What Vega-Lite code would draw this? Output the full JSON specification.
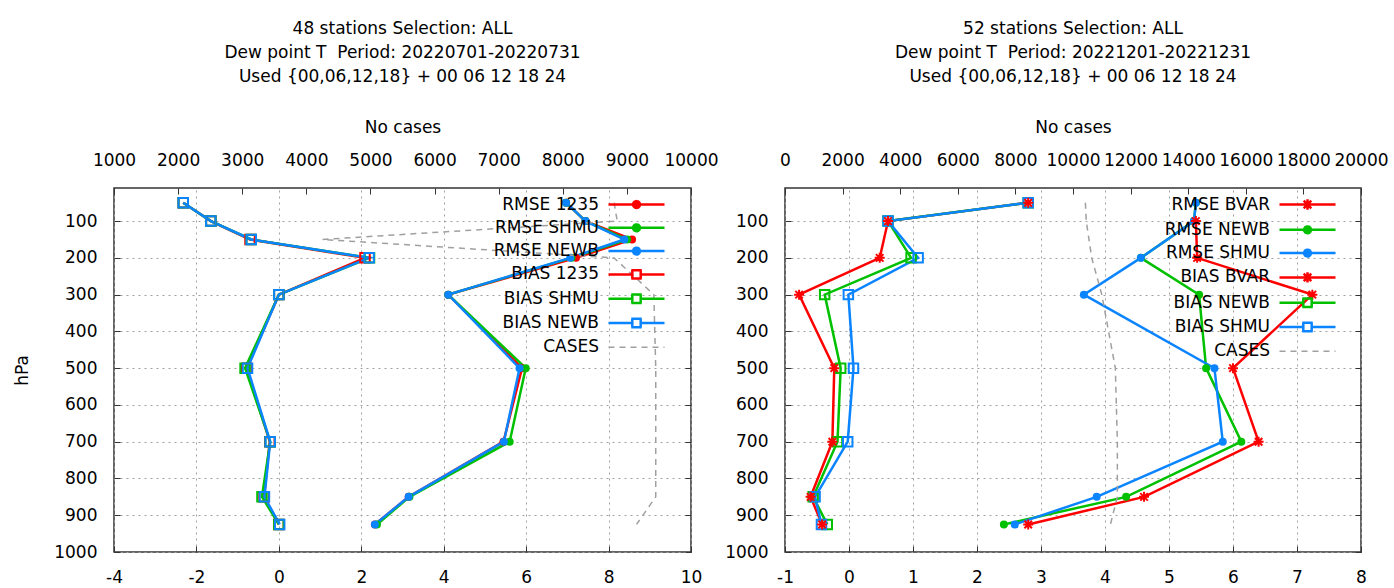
{
  "$schema": "https://vega.github.io/schema/vega-lite/v6.json",
  "padding": {"left": 12, "top": 19, "right": 0, "bottom": 0},
  "background": "white",
  "bounds": "flush",
  "spacing": 94,
  "datasets": {
    "L": [
      {"series": "RMSE 1235", "p": 50, "v": 6.97}, {"series": "RMSE 1235", "p": 100, "v": 7.44}, {"series": "RMSE 1235", "p": 150, "v": 8.57}, {"series": "RMSE 1235", "p": 200, "v": 7.21}, {"series": "RMSE 1235", "p": 300, "v": 4.11}, {"series": "RMSE 1235", "p": 500, "v": 5.9}, {"series": "RMSE 1235", "p": 700, "v": 5.45}, {"series": "RMSE 1235", "p": 850, "v": 3.15}, {"series": "RMSE 1235", "p": 925, "v": 2.33},
      {"series": "RMSE SHMU", "p": 50, "v": 6.97}, {"series": "RMSE SHMU", "p": 100, "v": 7.44}, {"series": "RMSE SHMU", "p": 150, "v": 8.45}, {"series": "RMSE SHMU", "p": 200, "v": 7.1}, {"series": "RMSE SHMU", "p": 300, "v": 4.11}, {"series": "RMSE SHMU", "p": 500, "v": 5.99}, {"series": "RMSE SHMU", "p": 700, "v": 5.6}, {"series": "RMSE SHMU", "p": 850, "v": 3.17}, {"series": "RMSE SHMU", "p": 925, "v": 2.38},
      {"series": "RMSE NEWB", "p": 50, "v": 6.97}, {"series": "RMSE NEWB", "p": 100, "v": 7.44}, {"series": "RMSE NEWB", "p": 150, "v": 8.38}, {"series": "RMSE NEWB", "p": 200, "v": 7.07}, {"series": "RMSE NEWB", "p": 300, "v": 4.11}, {"series": "RMSE NEWB", "p": 500, "v": 5.84}, {"series": "RMSE NEWB", "p": 700, "v": 5.46}, {"series": "RMSE NEWB", "p": 850, "v": 3.15}, {"series": "RMSE NEWB", "p": 925, "v": 2.33},
      {"series": "BIAS 1235", "p": 50, "v": -2.32}, {"series": "BIAS 1235", "p": 100, "v": -1.65}, {"series": "BIAS 1235", "p": 150, "v": -0.7}, {"series": "BIAS 1235", "p": 200, "v": 2.09}, {"series": "BIAS 1235", "p": 300, "v": 0.0}, {"series": "BIAS 1235", "p": 500, "v": -0.78}, {"series": "BIAS 1235", "p": 700, "v": -0.22}, {"series": "BIAS 1235", "p": 850, "v": -0.36}, {"series": "BIAS 1235", "p": 925, "v": 0.0},
      {"series": "BIAS SHMU", "p": 50, "v": -2.32}, {"series": "BIAS SHMU", "p": 100, "v": -1.65}, {"series": "BIAS SHMU", "p": 150, "v": -0.67}, {"series": "BIAS SHMU", "p": 200, "v": 2.2}, {"series": "BIAS SHMU", "p": 300, "v": 0.0}, {"series": "BIAS SHMU", "p": 500, "v": -0.82}, {"series": "BIAS SHMU", "p": 700, "v": -0.21}, {"series": "BIAS SHMU", "p": 850, "v": -0.41}, {"series": "BIAS SHMU", "p": 925, "v": 0.0},
      {"series": "BIAS NEWB", "p": 50, "v": -2.32}, {"series": "BIAS NEWB", "p": 100, "v": -1.65}, {"series": "BIAS NEWB", "p": 150, "v": -0.67}, {"series": "BIAS NEWB", "p": 200, "v": 2.19}, {"series": "BIAS NEWB", "p": 300, "v": 0.0}, {"series": "BIAS NEWB", "p": 500, "v": -0.76}, {"series": "BIAS NEWB", "p": 700, "v": -0.21}, {"series": "BIAS NEWB", "p": 850, "v": -0.35}, {"series": "BIAS NEWB", "p": 925, "v": 0.02}
    ],
    "LC": [
      {"series": "CASES", "p": 50, "n": 8800}, {"series": "CASES", "p": 100, "n": 8850}, {"series": "CASES", "p": 150, "n": 4250}, {"series": "CASES", "p": 200, "n": 8800}, {"series": "CASES", "p": 300, "n": 9420}, {"series": "CASES", "p": 500, "n": 9450}, {"series": "CASES", "p": 700, "n": 9450}, {"series": "CASES", "p": 850, "n": 9450}, {"series": "CASES", "p": 925, "n": 9150}
    ],
    "R": [
      {"series": "RMSE BVAR", "p": 100, "v": 5.42}, {"series": "RMSE BVAR", "p": 200, "v": 5.44}, {"series": "RMSE BVAR", "p": 300, "v": 7.24}, {"series": "RMSE BVAR", "p": 500, "v": 6.0}, {"series": "RMSE BVAR", "p": 700, "v": 6.4}, {"series": "RMSE BVAR", "p": 850, "v": 4.61}, {"series": "RMSE BVAR", "p": 925, "v": 2.8},
      {"series": "RMSE NEWB", "p": 50, "v": 5.42}, {"series": "RMSE NEWB", "p": 100, "v": 5.39}, {"series": "RMSE NEWB", "p": 200, "v": 4.56}, {"series": "RMSE NEWB", "p": 300, "v": 5.47}, {"series": "RMSE NEWB", "p": 500, "v": 5.58}, {"series": "RMSE NEWB", "p": 700, "v": 6.13}, {"series": "RMSE NEWB", "p": 850, "v": 4.33}, {"series": "RMSE NEWB", "p": 925, "v": 2.42},
      {"series": "RMSE SHMU", "p": 50, "v": 5.42}, {"series": "RMSE SHMU", "p": 100, "v": 5.39}, {"series": "RMSE SHMU", "p": 200, "v": 4.56}, {"series": "RMSE SHMU", "p": 300, "v": 3.67}, {"series": "RMSE SHMU", "p": 500, "v": 5.71}, {"series": "RMSE SHMU", "p": 700, "v": 5.84}, {"series": "RMSE SHMU", "p": 850, "v": 3.87}, {"series": "RMSE SHMU", "p": 925, "v": 2.59},
      {"series": "BIAS BVAR", "p": 50, "v": 2.8}, {"series": "BIAS BVAR", "p": 100, "v": 0.61}, {"series": "BIAS BVAR", "p": 200, "v": 0.48}, {"series": "BIAS BVAR", "p": 300, "v": -0.78}, {"series": "BIAS BVAR", "p": 500, "v": -0.23}, {"series": "BIAS BVAR", "p": 700, "v": -0.26}, {"series": "BIAS BVAR", "p": 850, "v": -0.6}, {"series": "BIAS BVAR", "p": 925, "v": -0.42},
      {"series": "BIAS NEWB", "p": 50, "v": 2.8}, {"series": "BIAS NEWB", "p": 100, "v": 0.61}, {"series": "BIAS NEWB", "p": 200, "v": 0.97}, {"series": "BIAS NEWB", "p": 300, "v": -0.38}, {"series": "BIAS NEWB", "p": 500, "v": -0.13}, {"series": "BIAS NEWB", "p": 700, "v": -0.18}, {"series": "BIAS NEWB", "p": 850, "v": -0.56}, {"series": "BIAS NEWB", "p": 925, "v": -0.34},
      {"series": "BIAS SHMU", "p": 50, "v": 2.8}, {"series": "BIAS SHMU", "p": 100, "v": 0.61}, {"series": "BIAS SHMU", "p": 200, "v": 1.08}, {"series": "BIAS SHMU", "p": 300, "v": -0.01}, {"series": "BIAS SHMU", "p": 500, "v": 0.07}, {"series": "BIAS SHMU", "p": 700, "v": -0.02}, {"series": "BIAS SHMU", "p": 850, "v": -0.53}, {"series": "BIAS SHMU", "p": 925, "v": -0.43}
    ],
    "RC": [
      {"series": "CASES", "p": 50, "n": 10430}, {"series": "CASES", "p": 100, "n": 10460}, {"series": "CASES", "p": 200, "n": 10650}, {"series": "CASES", "p": 300, "n": 11000}, {"series": "CASES", "p": 500, "n": 11470}, {"series": "CASES", "p": 700, "n": 11540}, {"series": "CASES", "p": 850, "n": 11540}, {"series": "CASES", "p": 925, "n": 11300}
    ]
  },
  "resolve": {"scale": {"color": "independent", "shape": "independent"}, "legend": {"color": "independent"}},
  "hconcat": [
    {
      "width": 577, "height": 364,
      "title": {"text": ["48 stations Selection: ALL", "Dew point T \u00a0Period: 20220701-20220731", "Used {00,06,12,18} + 00 06 12 18 24"]},
      "resolve": {"scale": {"x": "independent"}, "axis": {"x": "independent", "y": "independent"}},
      "layer": [
        {
          "data": {"name": "L"},
          "mark": {"type": "line", "strokeWidth": 2.5},
          "encoding": {
            "x": {"field": "v", "type": "quantitative", "scale": {"domain": [-4, 10], "nice": false, "zero": false}, "axis": {"orient": "bottom", "values": [-4, -2, 0, 2, 4, 6, 8, 10], "title": null, "grid": true, "labelExpr": "'' + datum.value"}},
            "y": {"field": "p", "type": "quantitative", "scale": {"domain": [10, 1000], "reverse": true, "nice": false, "zero": false}, "axis": {"orient": "left", "values": [100, 200, 300, 400, 500, 600, 700, 800, 900, 1000], "title": "hPa", "grid": true}},
            "color": {"field": "series", "type": "nominal",
              "scale": {"domain": ["RMSE 1235", "RMSE SHMU", "RMSE NEWB", "BIAS 1235", "BIAS SHMU", "BIAS NEWB", "CASES"], "range": ["#ff0000", "#00c000", "#0b84ff", "#ff0000", "#00c000", "#0b84ff", "#a0a0a0"]},
              "legend": {
                "orient": "none", "legendX": 514, "legendY": 8,
                "encode": {"symbols": {"update": {
                  "shape": {"signal": "datum.value === 'CASES' ? 'M-40,0M-7,0L7,0' : (indexof(datum.value, 'RMSE') === 0 ? 'M-40,0M-7,0L7,0M0.85,0A0.85,0.85,0,1,1,-0.85,0A0.85,0.85,0,1,1,0.85,0Z' : 'M-40,0M-7,0L-1.05,0M1.05,0L7,0M-1.3,-1.05L1.3,-1.05M1.05,-1.05L1.05,1.05M1.3,1.05L-1.3,1.05M-1.05,1.05L-1.05,-1.05')"},
                  "strokeDash": {"signal": "datum.value === 'CASES' ? [6, 5] : [1, 0]"},
                  "strokeWidth": {"signal": "datum.value === 'CASES' ? 1.5 : 2.5"}
                }}}
              }
            },
            "order": {"field": "p", "type": "quantitative"}
          }
        },
        {
          "data": {"name": "L"},
          "transform": [{"filter": {"field": "series", "oneOf": ["RMSE 1235", "RMSE SHMU", "RMSE NEWB"]}}],
          "mark": {"type": "point", "filled": true, "size": 64, "opacity": 1, "shape": "circle"},
          "encoding": {
            "x": {"field": "v", "type": "quantitative", "scale": {"domain": [-4, 10], "nice": false, "zero": false}, "axis": null},
            "y": {"field": "p", "type": "quantitative", "axis": null},
            "color": {"field": "series", "type": "nominal"}
          }
        },
        {
          "data": {"name": "L"},
          "transform": [{"filter": {"field": "series", "oneOf": ["BIAS 1235", "BIAS SHMU", "BIAS NEWB"]}}],
          "mark": {"type": "point", "filled": false, "size": 90, "strokeWidth": 2, "opacity": 1, "shape": "square"},
          "encoding": {
            "x": {"field": "v", "type": "quantitative", "scale": {"domain": [-4, 10], "nice": false, "zero": false}, "axis": null},
            "y": {"field": "p", "type": "quantitative", "axis": null},
            "color": {"field": "series", "type": "nominal"}
          }
        },
        {
          "data": {"name": "LC"},
          "mark": {"type": "line", "strokeWidth": 1.5, "strokeDash": [6, 5]},
          "encoding": {
            "x": {"field": "n", "type": "quantitative", "scale": {"domain": [1000, 10000], "nice": false, "zero": false}, "axis": {"orient": "top", "values": [1000, 2000, 3000, 4000, 5000, 6000, 7000, 8000, 9000, 10000], "title": "No cases", "grid": false}},
            "y": {"field": "p", "type": "quantitative", "axis": {"orient": "right", "labels": false, "title": null, "grid": false, "values": [100, 200, 300, 400, 500, 600, 700, 800, 900, 1000]}},
            "color": {"field": "series", "type": "nominal"},
            "order": {"field": "p", "type": "quantitative"}
          }
        }
      ]
    },
    {
      "width": 576, "height": 364,
      "title": {"text": ["52 stations Selection: ALL", "Dew point T \u00a0Period: 20221201-20221231", "Used {00,06,12,18} + 00 06 12 18 24"]},
      "resolve": {"scale": {"x": "independent"}, "axis": {"x": "independent", "y": "independent"}},
      "layer": [
        {
          "data": {"name": "R"},
          "mark": {"type": "line", "strokeWidth": 2.5},
          "encoding": {
            "x": {"field": "v", "type": "quantitative", "scale": {"domain": [-1, 8], "nice": false, "zero": false}, "axis": {"orient": "bottom", "values": [-1, 0, 1, 2, 3, 4, 5, 6, 7, 8], "title": null, "grid": true, "labelExpr": "'' + datum.value"}},
            "y": {"field": "p", "type": "quantitative", "scale": {"domain": [10, 1000], "reverse": true, "nice": false, "zero": false}, "axis": {"orient": "left", "values": [100, 200, 300, 400, 500, 600, 700, 800, 900, 1000], "title": null, "grid": true}},
            "color": {"field": "series", "type": "nominal",
              "scale": {"domain": ["RMSE BVAR", "RMSE NEWB", "RMSE SHMU", "BIAS BVAR", "BIAS NEWB", "BIAS SHMU", "CASES"], "range": ["#ff0000", "#00c000", "#0b84ff", "#ff0000", "#00c000", "#0b84ff", "#a0a0a0"]},
              "legend": {
                "orient": "none", "legendX": 514, "legendY": 8,
                "encode": {"symbols": {"update": {
                  "shape": {"signal": "datum.value === 'CASES' ? 'M-40,0M-7,0L7,0' : (indexof(datum.value, 'BVAR') >= 0 ? 'M-40,0M-7,0L7,0M0,-1.3L0,1.3M-0.95,-0.95L0.95,0.95M-0.95,0.95L0.95,-0.95' : (indexof(datum.value, 'RMSE') === 0 ? 'M-40,0M-7,0L7,0M0.85,0A0.85,0.85,0,1,1,-0.85,0A0.85,0.85,0,1,1,0.85,0Z' : 'M-40,0M-7,0L-1.05,0M1.05,0L7,0M-1.3,-1.05L1.3,-1.05M1.05,-1.05L1.05,1.05M1.3,1.05L-1.3,1.05M-1.05,1.05L-1.05,-1.05'))"},
                  "strokeDash": {"signal": "datum.value === 'CASES' ? [6, 5] : [1, 0]"},
                  "strokeWidth": {"signal": "datum.value === 'CASES' ? 1.5 : 2.5"}
                }}}
              }
            },
            "order": {"field": "p", "type": "quantitative"}
          }
        },
        {
          "data": {"name": "R"},
          "transform": [{"filter": {"field": "series", "oneOf": ["RMSE NEWB", "RMSE SHMU"]}}],
          "mark": {"type": "point", "filled": true, "size": 64, "opacity": 1, "shape": "circle"},
          "encoding": {
            "x": {"field": "v", "type": "quantitative", "scale": {"domain": [-1, 8], "nice": false, "zero": false}, "axis": null},
            "y": {"field": "p", "type": "quantitative", "axis": null},
            "color": {"field": "series", "type": "nominal"}
          }
        },
        {
          "data": {"name": "R"},
          "transform": [{"filter": {"field": "series", "oneOf": ["BIAS NEWB", "BIAS SHMU"]}}],
          "mark": {"type": "point", "filled": false, "size": 90, "strokeWidth": 2, "opacity": 1, "shape": "square"},
          "encoding": {
            "x": {"field": "v", "type": "quantitative", "scale": {"domain": [-1, 8], "nice": false, "zero": false}, "axis": null},
            "y": {"field": "p", "type": "quantitative", "axis": null},
            "color": {"field": "series", "type": "nominal"}
          }
        },
        {
          "data": {"name": "R"},
          "transform": [{"filter": {"field": "series", "oneOf": ["RMSE BVAR", "BIAS BVAR"]}}],
          "mark": {"type": "point", "filled": false, "size": 100, "strokeWidth": 2, "opacity": 1, "shape": "M-1,0L1,0M0,-1L0,1M-0.75,-0.75L0.75,0.75M-0.75,0.75L0.75,-0.75"},
          "encoding": {
            "x": {"field": "v", "type": "quantitative", "scale": {"domain": [-1, 8], "nice": false, "zero": false}, "axis": null},
            "y": {"field": "p", "type": "quantitative", "axis": null},
            "color": {"field": "series", "type": "nominal"}
          }
        },
        {
          "data": {"name": "RC"},
          "mark": {"type": "line", "strokeWidth": 1.5, "strokeDash": [6, 5]},
          "encoding": {
            "x": {"field": "n", "type": "quantitative", "scale": {"domain": [0, 20000], "nice": false, "zero": false}, "axis": {"orient": "top", "values": [0, 2000, 4000, 6000, 8000, 10000, 12000, 14000, 16000, 18000, 20000], "title": "No cases", "grid": false}},
            "y": {"field": "p", "type": "quantitative", "axis": {"orient": "right", "labels": false, "title": null, "grid": false, "values": [100, 200, 300, 400, 500, 600, 700, 800, 900, 1000]}},
            "color": {"field": "series", "type": "nominal"},
            "order": {"field": "p", "type": "quantitative"}
          }
        }
      ]
    }
  ],
  "config": {
    "font": "DejaVu Sans",
    "view": {"stroke": "#333333", "strokeWidth": 1.5},
    "axis": {
      "domain": false, "labelFont": "DejaVu Sans", "labelFontSize": 17, "labelColor": "#000000",
      "titleFont": "DejaVu Sans", "titleFontSize": 17, "titleFontWeight": "normal", "titleColor": "#000000",
      "tickColor": "#333333", "tickSize": -6, "tickWidth": 1, "labelPadding": 16,
      "gridColor": "#a0a0a0", "gridDash": [2, 4], "gridWidth": 1, "gridOpacity": 1,
      "labelFlush": false, "labelOverlap": false, "format": "d"
    },
    "axisTop": {"titlePadding": 15, "labelPadding": 25},
    "axisLeft": {"titlePadding": 22, "labelPadding": 23},
    "axisBottom": {"labelPadding": 23},
    "legend": {
      "title": null, "labelFont": "DejaVu Sans", "labelFontSize": 17, "labelColor": "#000000",
      "labelAlign": "right", "labelOffset": -46, "rowPadding": 5.3, "padding": 0,
      "symbolSize": 64, "symbolStrokeWidth": 2.5, "labelLimit": 300
    },
    "title": {"font": "DejaVu Sans", "fontSize": 17, "fontWeight": "normal", "color": "#000000", "anchor": "middle", "lineHeight": 24, "offset": 32}
  }
}
